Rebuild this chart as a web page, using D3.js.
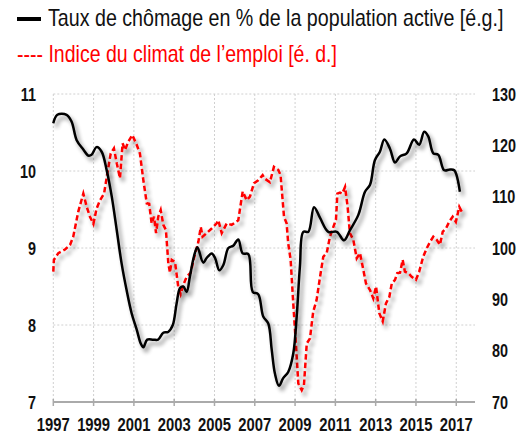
<!DOCTYPE html>
<html lang="fr">
<head>
  <meta charset="UTF-8">
  <title>Chomage</title>
  <script src="https://d3js.org/d3.v7.min.js"></script>
  <style>
    body { margin: 0; background: white; }
    text { font-family: "Liberation Sans Narrow", "Arial Narrow", "Liberation Sans", Arial, sans-serif; }
    .tick-lbl { font-weight: bold; font-size: 18px; fill: #111; }
    .grid { stroke: #d0d0d0; stroke-width: 1px; stroke-dasharray: 2,2; }
  </style>
</head>
<body>
<svg id="svg" width="524" height="434"></svg>
<script>
// unemployment rate (left axis)
const uDates = [1997.0,1997.2,1997.66,1997.91,1998.16,1998.49,1998.74,1998.9,1999.15,1999.4,1999.65,1999.9,2000.15,2000.39,2000.64,2000.89,2001.14,2001.34,2001.47,2001.66,2001.96,2002.2,2002.46,2002.7,2002.93,2003.12,2003.29,2003.45,2003.62,2003.78,2003.98,2004.15,2004.44,2004.61,2004.86,2005.03,2005.24,2005.44,2005.69,2005.93,2006.18,2006.4,2006.68,2006.9,2007.17,2007.42,2007.67,2007.84,2008.0,2008.2,2008.41,2008.66,2008.91,2009.08,2009.24,2009.41,2009.66,2009.94,2010.24,2010.65,2011.07,2011.43,2011.72,2012.14,2012.47,2012.72,2012.96,2013.21,2013.43,2013.71,2013.96,2014.21,2014.54,2014.9,2015.16,2015.41,2015.61,2015.86,2016.11,2016.4,2016.69,2016.9,2017.18];
const uRate = [10.62,10.73,10.73,10.64,10.40,10.28,10.20,10.21,10.31,10.25,10.01,9.67,9.23,8.80,8.45,8.15,7.94,7.76,7.71,7.81,7.81,7.81,7.90,7.91,8.0,8.28,8.48,8.50,8.43,8.63,8.89,9.01,8.81,8.87,8.93,8.87,8.71,8.78,9.0,9.03,9.11,8.93,8.92,8.43,8.40,8.11,8.02,7.68,7.37,7.21,7.31,7.39,7.63,8.11,8.76,9.21,9.21,9.53,9.39,9.21,9.21,9.10,9.23,9.43,9.73,9.82,10.14,10.25,10.41,10.29,10.11,10.19,10.23,10.41,10.34,10.51,10.45,10.23,10.21,10.01,10.02,10.01,9.73];

// employment climate index (right axis)
const cDates = [1997.0,1997.03,1997.25,1997.58,1997.83,1997.99,1998.24,1998.49,1998.66,1998.82,1998.99,1999.15,1999.32,1999.52,1999.68,1999.85,2000.01,2000.15,2000.31,2000.44,2000.56,2000.72,2000.92,2001.14,2001.3,2001.47,2001.64,2001.76,2001.88,2002.0,2002.1,2002.21,2002.33,2002.46,2002.59,2002.71,2002.79,2002.88,2003.04,2003.2,2003.32,2003.45,2003.62,2003.82,2003.98,2004.2,2004.32,2004.41,2004.61,2004.86,2005.11,2005.19,2005.36,2005.61,2005.85,2006.18,2006.4,2006.6,2006.76,2006.96,2007.17,2007.39,2007.5,2007.75,2007.95,2008.17,2008.28,2008.45,2008.58,2008.66,2008.78,2008.91,2009.05,2009.16,2009.33,2009.44,2009.58,2009.74,2009.9,2010.07,2010.24,2010.4,2010.57,2010.73,2010.9,2011.03,2011.1,2011.23,2011.34,2011.48,2011.61,2011.72,2011.89,2012.06,2012.22,2012.39,2012.52,2012.72,2012.88,2013.02,2013.18,2013.35,2013.51,2013.68,2013.8,2013.96,2014.07,2014.21,2014.34,2014.45,2014.62,2014.79,2015.0,2015.16,2015.36,2015.53,2015.7,2015.86,2016.03,2016.19,2016.33,2016.49,2016.65,2016.82,2016.98,2017.15,2017.27];
const cIndex = [95.4,97.7,99.0,99.7,100.6,102.2,107.1,110.6,108.0,106.1,104.7,107.7,109.3,110.6,114.5,118.4,119.4,116.5,113.6,120.4,119.1,120.7,122.0,120.1,118.4,113.2,108.7,108.6,104.8,106.1,102.9,106.1,107.4,104.5,103.5,97.0,95.2,97.7,97.3,92.5,91.0,92.8,94.4,95.2,98.0,101.2,104.1,102.2,102.9,103.8,104.8,105.4,102.9,104.8,104.5,105.4,111.0,109.3,110.0,112.6,113.2,114.2,113.5,112.8,115.8,115.2,114.2,106.1,104.8,100.9,97.7,89.2,80.8,73.6,72.3,73.3,81.4,82.4,87.6,89.9,94.4,98.3,99.0,102.2,104.1,105.5,110.6,110.8,110.6,111.9,108.0,102.9,101.6,98.0,99.0,95.7,93.1,91.8,90.2,92.5,87.3,85.7,89.2,90.5,93.1,93.8,95.1,95.2,97.7,95.4,95.1,94.4,93.8,95.4,98.3,99.9,101.2,102.2,101.6,100.6,103.2,103.8,105.1,106.1,105.1,108.0,107.1];

const yearTicks = [1997,1999,2001,2003,2005,2007,2009,2011,2013,2015,2017];
const leftTicks = [7,8,9,10,11];
const rightTicks = [70,80,90,100,110,120,130];

const plotL = 53.3, plotR = 475, plotT = 94, plotB = 402;
const narrow = 0.8; // no narrow font installed, squeeze horizontally

const x = d3.scaleLinear().domain([1997, 2017.93]).range([plotL, plotR]);
const yL = d3.scaleLinear().domain([7, 11]).range([plotB, plotT]);
const yR = d3.scaleLinear().domain([70, 130]).range([plotB, plotT]);

const svg = d3.select("#svg");

const defs = svg.append("defs");
const f = defs.append("filter").attr("id", "shadow")
  .attr("x", "-10%").attr("y", "-10%").attr("width", "130%").attr("height", "130%");
f.append("feGaussianBlur").attr("in", "SourceAlpha").attr("stdDeviation", 2.2).attr("result", "b");
f.append("feOffset").attr("in", "b").attr("dx", 3).attr("dy", 4).attr("result", "o");
f.append("feComponentTransfer").attr("in", "o").attr("result", "s")
  .append("feFuncA").attr("type", "linear").attr("slope", 0.45);
const m = f.append("feMerge");
m.append("feMergeNode").attr("in", "s");
m.append("feMergeNode").attr("in", "SourceGraphic");

// grid
svg.append("g").selectAll("line").data(leftTicks.filter(d => d > 7)).join("line")
  .attr("class", "grid")
  .attr("x1", plotL).attr("x2", plotR)
  .attr("y1", d => yL(d)).attr("y2", d => yL(d));
svg.append("g").selectAll("line").data(yearTicks).join("line")
  .attr("class", "grid")
  .attr("x1", d => x(d)).attr("x2", d => x(d))
  .attr("y1", plotT).attr("y2", plotB);

// x axis
svg.append("line").attr("x1", plotL).attr("x2", plotR).attr("y1", plotB).attr("y2", plotB)
  .attr("stroke", "#aaa").attr("stroke-width", 2);
svg.append("g").selectAll("line").data(yearTicks).join("line")
  .attr("x1", d => x(d)).attr("x2", d => x(d))
  .attr("y1", plotB - 3).attr("y2", plotB + 4)
  .attr("stroke", "#aaa").attr("stroke-width", 1.5);
svg.append("g").selectAll("text").data(yearTicks).join("text")
  .attr("class", "tick-lbl")
  .attr("transform", d => `translate(${x(d)},431) scale(${narrow},1)`)
  .attr("text-anchor", "middle")
  .style("font-size", "18.5px")
  .text(d => d);

// y labels
svg.append("g").selectAll("text").data(leftTicks).join("text")
  .attr("class", "tick-lbl")
  .attr("transform", d => `translate(36,${yL(d)}) scale(${narrow},1)`)
  .attr("text-anchor", "end").attr("dominant-baseline", "central")
  .text(d => d);
svg.append("g").selectAll("text").data(rightTicks).join("text")
  .attr("class", "tick-lbl")
  .attr("transform", d => `translate(492,${yR(d)}) scale(${narrow},1)`)
  .attr("text-anchor", "start").attr("dominant-baseline", "central")
  .text(d => d);

// series
const lineU = d3.line().x((d, i) => x(uDates[i])).y(d => yL(d)).curve(d3.curveCatmullRom);
const lineC = d3.line().x((d, i) => x(cDates[i])).y(d => yR(d));

svg.append("path").datum(cIndex)
  .attr("d", lineC)
  .attr("fill", "none").attr("stroke", "#ff0000").attr("stroke-width", 2.5)
  .attr("stroke-dasharray", "5.5,3")
  .attr("filter", "url(#shadow)");
svg.append("path").datum(uRate)
  .attr("d", lineU)
  .attr("fill", "none").attr("stroke", "#000").attr("stroke-width", 2.5)
  .attr("filter", "url(#shadow)");

// legend (squeezed to the width it has in the original)
function legendText(label, lx, ly, width, color) {
  const t = svg.append("text").style("font-size", "23px").attr("fill", color).text(label);
  const w = t.node().getComputedTextLength();
  t.attr("transform", `translate(${lx},${ly}) scale(${width / w},1)`);
}
svg.append("line").attr("x1", 17).attr("x2", 41).attr("y1", 19).attr("y2", 19)
  .attr("stroke", "#000").attr("stroke-width", 4);
legendText("Taux de chômage en % de la population active [é.g.]", 48, 26, 456, "#111");
legendText("---- Indice du climat de l’emploi [é. d.]", 17, 62, 320, "#ff0000");
</script>
</body>
</html>
